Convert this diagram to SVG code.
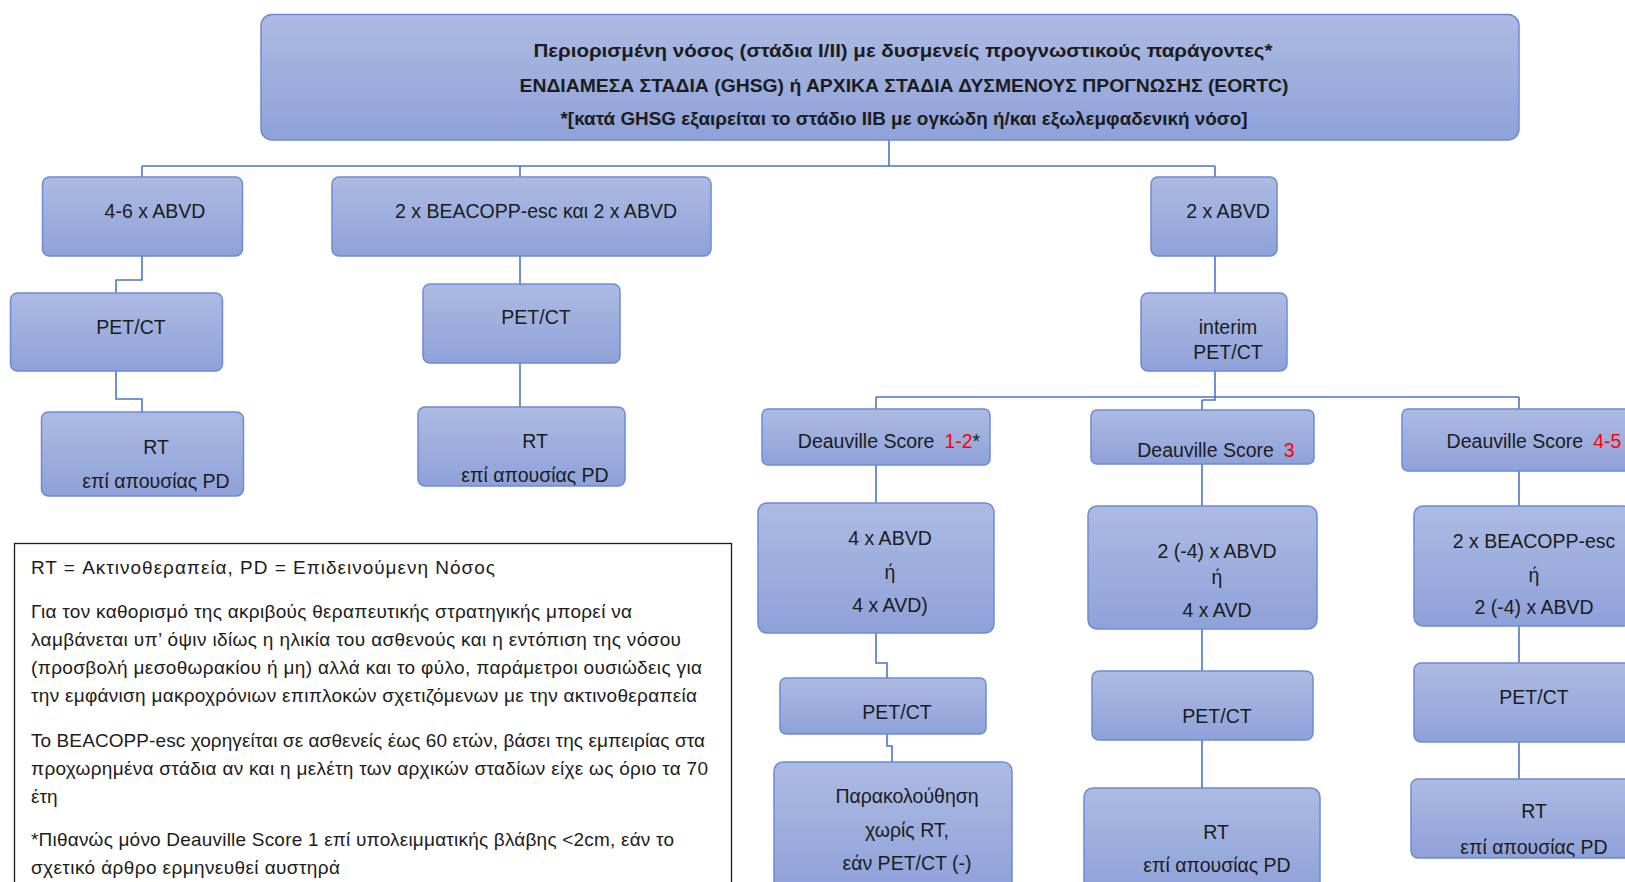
<svg xmlns="http://www.w3.org/2000/svg" width="1625" height="882" viewBox="0 0 1625 882">
<defs>
<linearGradient id="g" x1="0" y1="0" x2="0" y2="1">
<stop offset="0" stop-color="#adbbe3"/>
<stop offset="1" stop-color="#8ea1d9"/>
</linearGradient>
<style>
.box{fill:url(#g);stroke:#6d8bd3;stroke-width:1.5}
.t{font-family:"Liberation Sans",Arial,sans-serif;font-size:19.5px;fill:#1c1c1c;text-anchor:middle}
.tb{font-family:"Liberation Sans",Arial,sans-serif;font-size:19px;font-weight:bold;fill:#1c1c1c;text-anchor:middle}
.lg{font-family:"Liberation Sans",Arial,sans-serif;font-size:19px;fill:#1c1c1c}
.red{fill:#ff0000}
.c{fill:none;stroke:#4a76c6;stroke-width:1.6}
</style>
</defs>
<rect width="1625" height="882" fill="#ffffff"/>
<g id="connectors">
<path class="c" d="M889 140V166M142 166H1215M142 166V177M520 166V177M1215 166V177"/>
<path class="c" d="M142 256V280H116V293M116 371V399H142V412"/>
<path class="c" d="M520 256V284M520 363V407"/>
<path class="c" d="M1215 256V293M1215 371V400H1202M876 397H1519M876 397V409M1519 397V409M1202 400V410"/>
<path class="c" d="M876 465V503M876 633V663H887V678M887 734V746H892V762"/>
<path class="c" d="M1202 464V506M1202 629V671M1202 740V788"/>
<path class="c" d="M1519 471V506M1519 626V663M1519 742V779"/>
</g>
<g id="top">
<rect class="box" x="261" y="14.5" width="1258" height="125.5" rx="11"/>
<text class="tb" x="903" y="57" textLength="739" lengthAdjust="spacingAndGlyphs">Περιορισμένη νόσος (στάδια Ι/ΙΙ) με δυσμενείς προγνωστικούς παράγοντες*</text>
<text class="tb" x="904" y="92" textLength="769" lengthAdjust="spacingAndGlyphs">ΕΝΔΙΑΜΕΣΑ ΣΤΑΔΙΑ (GHSG) ή ΑΡΧΙΚΑ ΣΤΑΔΙΑ ΔΥΣΜΕΝΟΥΣ ΠΡΟΓΝΩΣΗΣ (EORTC)</text>
<text class="tb" x="904" y="125" textLength="687" lengthAdjust="spacingAndGlyphs">*[κατά GHSG εξαιρείται το στάδιο ΙΙΒ με ογκώδη ή/και εξωλεμφαδενική νόσο]</text>
</g>
<g id="abvd46">
<rect class="box" x="42.5" y="177" width="200" height="79" rx="7"/>
<text class="t" x="155" y="218">4-6 x ABVD</text>
</g>
<g id="pet1">
<rect class="box" x="10.5" y="293" width="212" height="78" rx="7"/>
<text class="t" x="131" y="334">PET/CT</text>
</g>
<g id="rt1">
<rect class="box" x="41.5" y="412" width="202" height="84" rx="7"/>
<text class="t" x="156" y="454">RT</text>
<text class="t" x="156" y="488">επί απουσίας PD</text>
</g>
<g id="beacopp">
<rect class="box" x="332" y="177" width="379" height="79" rx="7"/>
<text class="t" x="536" y="218">2 x BEACOPP-esc και 2 x ABVD</text>
</g>
<g id="pet2">
<rect class="box" x="423" y="284" width="197" height="79" rx="7"/>
<text class="t" x="536" y="324">PET/CT</text>
</g>
<g id="rt2">
<rect class="box" x="418" y="407" width="207" height="79" rx="7"/>
<text class="t" x="535" y="448">RT</text>
<text class="t" x="535" y="482">επί απουσίας PD</text>
</g>
<g id="abvd2">
<rect class="box" x="1151" y="177" width="126" height="79" rx="7"/>
<text class="t" x="1228" y="218">2 x ABVD</text>
</g>
<g id="interim">
<rect class="box" x="1141" y="293" width="146" height="78" rx="7"/>
<text class="t" x="1228" y="334">interim</text>
<text class="t" x="1228" y="359">PET/CT</text>
</g>
<g id="ds12">
<rect class="box" x="762" y="409" width="228" height="56" rx="6"/>
<text class="t" x="889" y="448">Deauville Score<tspan class="red" dx="10">1-2</tspan>*</text>
</g>
<g id="ds3">
<rect class="box" x="1091" y="410" width="223" height="54" rx="6"/>
<text class="t" x="1216" y="457">Deauville Score<tspan class="red" dx="10">3</tspan></text>
</g>
<g id="ds45">
<rect class="box" x="1402" y="409" width="230" height="62" rx="6"/>
<text class="t" x="1534" y="448">Deauville Score<tspan class="red" dx="10">4-5</tspan></text>
</g>
<g id="abvd4">
<rect class="box" x="758" y="503" width="236" height="130" rx="9"/>
<text class="t" x="890" y="545">4 x ABVD</text>
<text class="t" x="890" y="579">ή</text>
<text class="t" x="890" y="612">4 x AVD)</text>
</g>
<g id="pet3">
<rect class="box" x="780" y="678" width="206" height="56" rx="6"/>
<text class="t" x="897" y="719">PET/CT</text>
</g>
<g id="follow">
<rect class="box" x="774" y="762" width="238" height="130" rx="9"/>
<text class="t" x="907" y="803">Παρακολούθηση</text>
<text class="t" x="907" y="837">χωρίς RT,</text>
<text class="t" x="907" y="870">εάν PET/CT (-)</text>
</g>
<g id="abvd24">
<rect class="box" x="1088" y="506" width="229" height="123" rx="9"/>
<text class="t" x="1217" y="558">2 (-4) x ABVD</text>
<text class="t" x="1217" y="584">ή</text>
<text class="t" x="1217" y="617">4 x AVD</text>
</g>
<g id="pet4">
<rect class="box" x="1092" y="671" width="221" height="69" rx="7"/>
<text class="t" x="1217" y="723">PET/CT</text>
</g>
<g id="rt3">
<rect class="box" x="1084" y="788" width="236" height="104" rx="9"/>
<text class="t" x="1216" y="839">RT</text>
<text class="t" x="1217" y="872">επί απουσίας PD</text>
</g>
<g id="beacopp2">
<rect class="box" x="1414" y="506" width="218" height="120" rx="9"/>
<text class="t" x="1534" y="548">2 x BEACOPP-esc</text>
<text class="t" x="1534" y="582">ή</text>
<text class="t" x="1534" y="614">2 (-4) x ABVD</text>
</g>
<g id="pet5">
<rect class="box" x="1414" y="663" width="218" height="79" rx="7"/>
<text class="t" x="1534" y="704">PET/CT</text>
</g>
<g id="rt4">
<rect class="box" x="1411" y="779" width="221" height="79" rx="7"/>
<text class="t" x="1534" y="818">RT</text>
<text class="t" x="1534" y="854">επί απουσίας PD</text>
</g>
<g id="legend">
<rect x="14.5" y="543.5" width="717" height="350" fill="#ffffff" stroke="#1a1a1a" stroke-width="1.3"/>
<text class="lg" x="31" y="574" textLength="464">RT = Ακτινοθεραπεία, PD = Επιδεινούμενη Νόσος</text>
<text class="lg" x="31" y="618" textLength="601">Για τον καθορισμό της ακριβούς θεραπευτικής στρατηγικής μπορεί να</text>
<text class="lg" x="31" y="646" textLength="650">λαμβάνεται υπ’ όψιν ιδίως η ηλικία του ασθενούς και η εντόπιση της νόσου</text>
<text class="lg" x="31" y="674" textLength="671">(προσβολή μεσοθωρακίου ή μη) αλλά και το φύλο, παράμετροι ουσιώδεις για</text>
<text class="lg" x="31" y="702" textLength="666">την εμφάνιση μακροχρόνιων επιπλοκών σχετιζόμενων με την ακτινοθεραπεία</text>
<text class="lg" x="31" y="747" textLength="674">Το BEACOPP-esc χορηγείται σε ασθενείς έως 60 ετών, βάσει της εμπειρίας στα</text>
<text class="lg" x="31" y="775" textLength="677">προχωρημένα στάδια αν και η μελέτη των αρχικών σταδίων είχε ως όριο τα 70</text>
<text class="lg" x="31" y="803">έτη</text>
<text class="lg" x="31" y="846" textLength="643">*Πιθανώς μόνο Deauville Score 1 επί υπολειμματικής βλάβης &lt;2cm, εάν το</text>
<text class="lg" x="31" y="874" textLength="309">σχετικό άρθρο ερμηνευθεί αυστηρά</text>
</g>
</svg>
